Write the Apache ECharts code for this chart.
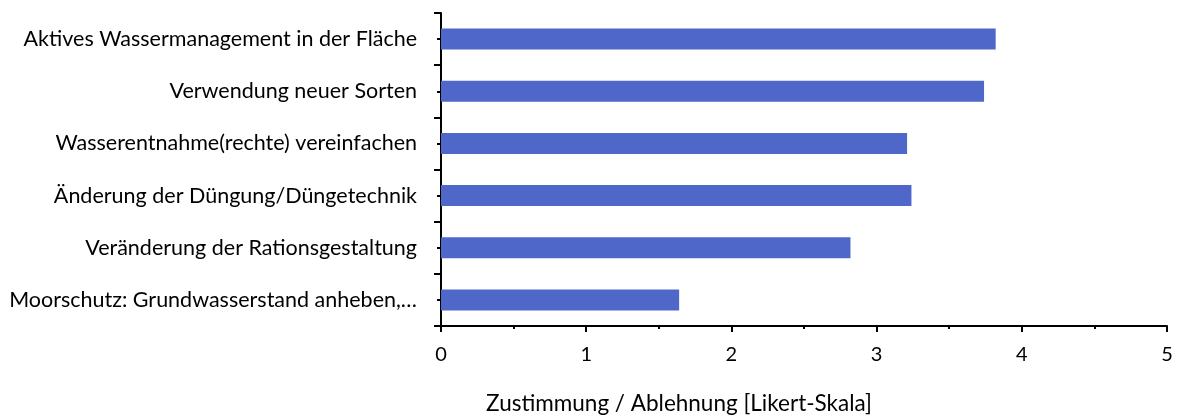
<!DOCTYPE html>
<html>
<head>
<meta charset="utf-8">
<script src="https://cdn.jsdelivr.net/npm/echarts@6/dist/echarts.min.js"></script>
<style>
  html, body { margin: 0; padding: 0; background: #fff; }
  #chart { width: 1180px; height: 419px; }
</style>
</head>
<body>
<div id="chart"></div>
<script>
// Kategorien von oben nach unten
const categories = [
  'Aktives Wassermanagement in der Fläche',
  'Verwendung neuer Sorten',
  'Wasserentnahme(rechte) vereinfachen',
  'Änderung der Düngung/Düngetechnik',
  'Veränderung der Rationsgestaltung',
  'Moorschutz: Grundwasserstand anheben,…'
];
const values = [3.82, 3.74, 3.21, 3.24, 2.82, 1.64];
const xTicks = [0, 1, 2, 3, 4, 5];
const axisTitle = 'Zustimmung / Ablehnung [Likert-Skala]';

const font = 'Lato, "Open Sans", sans-serif';
const chart = echarts.init(document.getElementById('chart'));

const option = {
  animation: false,
  grid: { left: 441, right: 13, top: 13, bottom: 93, outerBoundsMode: 'none', containLabel: false },
  xAxis: {
    type: 'value',
    min: xTicks[0],
    max: xTicks[xTicks.length - 1],
    interval: 1,
    name: axisTitle,
    nameLocation: 'middle',
    nameGap: 66,
    nameTextStyle: { fontFamily: font, fontSize: 22.5, color: '#000', padding: [0, 250, 0, 0] },
    axisLine: { show: true, lineStyle: { color: '#000', width: 2 } },
    axisTick: { show: true, length: 6, lineStyle: { color: '#000', width: 2 } },
    minorTick: { show: true, splitNumber: 2, length: 3, lineStyle: { color: '#000', width: 2 } },
    splitLine: { show: false },
    axisLabel: { fontFamily: font, fontSize: 20, color: '#000', margin: 19 }
  },
  yAxis: [
    {
      type: 'category',
      data: categories,
      inverse: true,
      axisLine: { show: true, lineStyle: { color: '#000', width: 2 } },
      axisTick: { show: true, length: 7, lineStyle: { color: '#000', width: 2 } },
      axisLabel: { fontFamily: font, fontSize: 21.5, color: '#000', margin: 24 }
    },
    {
      // kurze Striche in der Mitte jeder Kategorie
      type: 'category',
      data: categories,
      inverse: true,
      position: 'left',
      axisLine: { show: false },
      axisTick: { show: true, alignWithLabel: true, length: 4, lineStyle: { color: '#000', width: 2 } },
      axisLabel: { show: false }
    }
  ],
  series: [
    {
      type: 'bar',
      data: values,
      barWidth: 21,
      itemStyle: { color: '#4F67C8' }
    }
  ]
};

chart.setOption(option);
window.addEventListener('resize', () => chart.resize());
</script>
</body>
</html>
